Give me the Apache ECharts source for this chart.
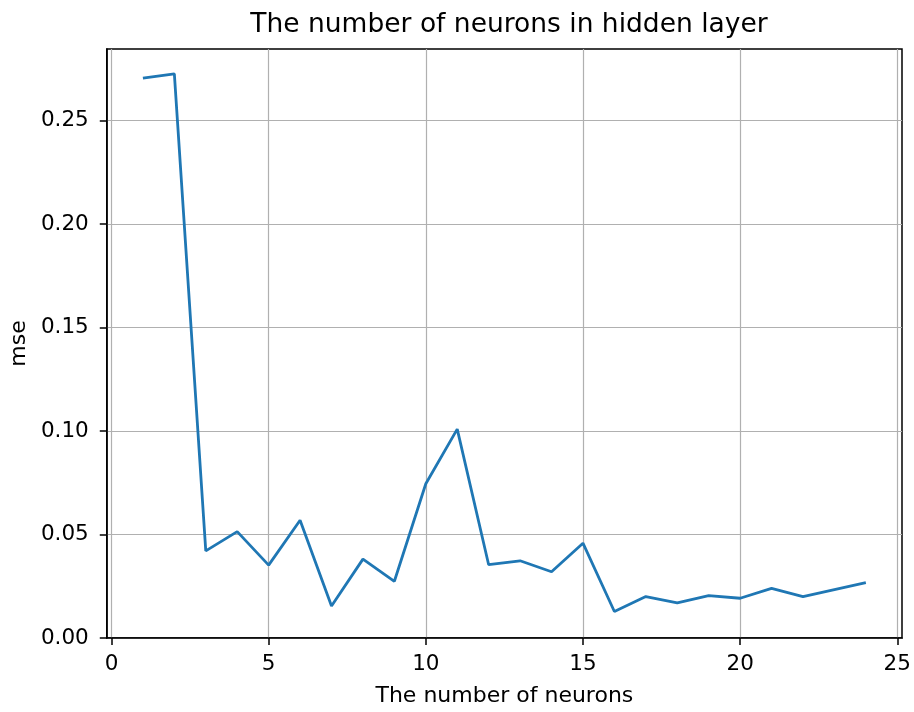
<!DOCTYPE html>
<html>
<head>
<meta charset="utf-8">
<script src="https://cdn.jsdelivr.net/npm/echarts@6/dist/echarts.min.js"></script>
<style>
html,body{margin:0;padding:0;background:#fff;}
#chart{width:914px;height:712px;}
</style>
</head>
<body>
<div id="chart"></div>
<script>
const neurons = [1,2,3,4,5,6,7,8,9,10,11,12,13,14,15,16,17,18,19,20,21,22,23,24];
const mse = [0.2704,0.2725,0.0421,0.0514,0.0352,0.0569,0.0155,0.0381,0.0274,0.0745,0.1009,0.0354,0.0373,0.0320,0.0458,0.0128,0.0200,0.0170,0.0205,0.0192,0.0240,0.0200,0.0234,0.0268];
const xTicks = [0,5,10,15,20,25];
const yTicks = [0,0.05,0.10,0.15,0.20,0.25];
const titleText = 'The number of neurons in hidden layer';
const xName = 'The number of neurons';
const yName = 'mse';

const font = 'DejaVu Sans';
const chart = echarts.init(document.getElementById('chart'), null, {renderer:'canvas'});
chart.setOption({
  animation:false,
  backgroundColor:'#fff',
  title:{
    text:titleText, left:504, textAlign:'center', top:7,
    textStyle:{fontFamily:font, fontSize:26.5, fontWeight:'normal', color:'#000'}
  },
  grid:{left:106, right:12, top:49, bottom:71, show:true, borderColor:'#000', borderWidth:1.5, backgroundColor:'#fff'},
  xAxis:{
    type:'value', min:-0.15, max:25.15,
    name:xName, nameLocation:'middle', nameGap:47,
    nameTextStyle:{fontFamily:font, fontSize:22, color:'#000'},
    axisLine:{show:true, onZero:false, lineStyle:{color:'#000', width:1.5}},
    axisTick:{show:true, length:7, customValues:xTicks, lineStyle:{color:'#000', width:1.5}},
    axisLabel:{customValues:xTicks, margin:15, fontFamily:font, fontSize:21.5, color:'#000', formatter:v=>String(v)},
    splitLine:{show:true, lineStyle:{color:'#b0b0b0', width:1.2}}
  },
  yAxis:{
    type:'value', min:0, max:0.2845,
    name:yName, nameLocation:'middle', nameGap:76, nameRotate:90,
    nameTextStyle:{fontFamily:font, fontSize:22, color:'#000'},
    axisLine:{show:true, onZero:false, lineStyle:{color:'#000', width:1.5}},
    axisTick:{show:true, length:7, customValues:yTicks, lineStyle:{color:'#000', width:1.5}},
    axisLabel:{customValues:yTicks, margin:18, fontFamily:font, fontSize:21.5, color:'#000', formatter:v=>v.toFixed(2)},
    splitLine:{show:true, lineStyle:{color:'#b0b0b0', width:1.2}}
  },
  series:[{
    type:'line',
    data:neurons.map((n,i)=>[n, mse[i]]),
    showSymbol:false,
    symbol:'none',
    lineStyle:{color:'#1f77b4', width:2.8},
    itemStyle:{color:'#1f77b4'}
  }]
});
</script>
</body>
</html>
